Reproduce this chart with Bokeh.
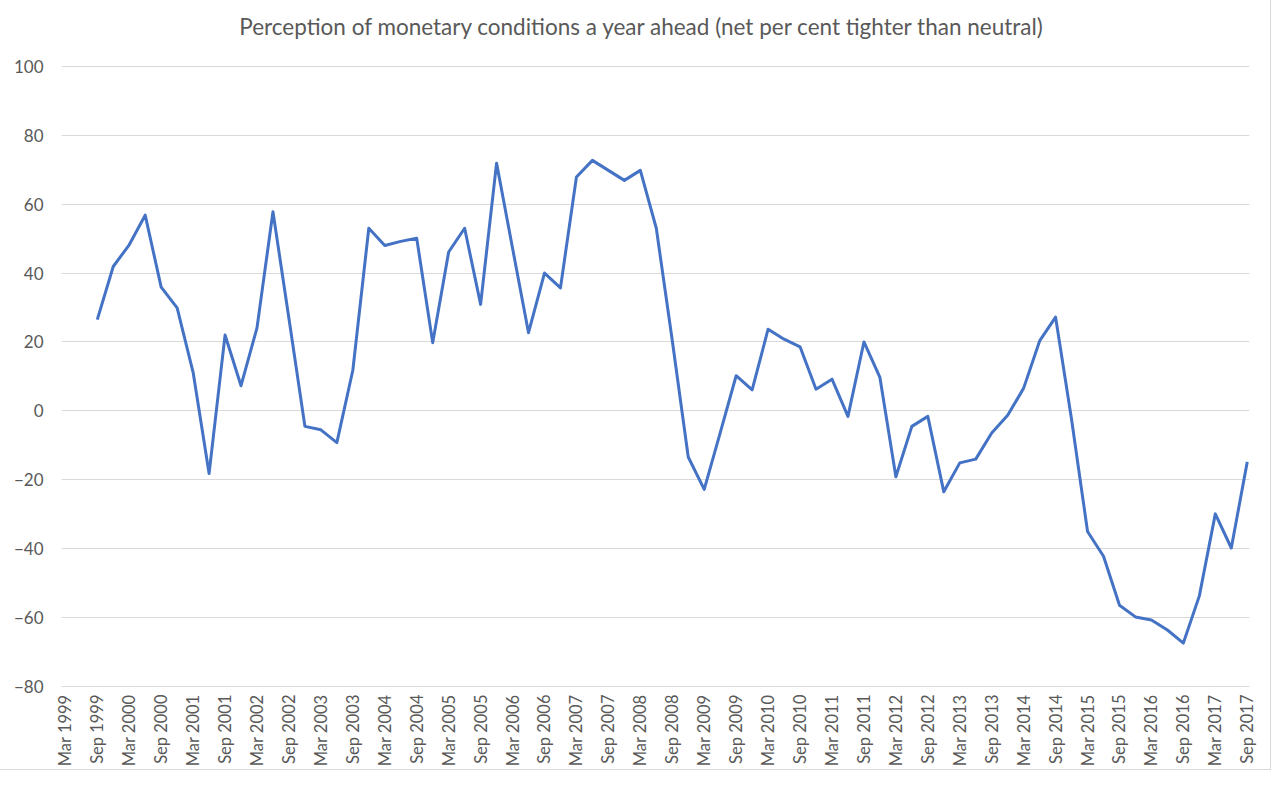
import math
from bokeh.plotting import figure
from bokeh.models import FixedTicker, Range1d, ColumnDataSource, Label
from bokeh.embed import file_html
from bokeh.resources import INLINE

quarters = []
for yr in range(1999, 2018):
    for m in ["Mar", "Jun", "Sep", "Dec"]:
        quarters.append(f"{m} {yr}")
quarters = quarters[:quarters.index("Sep 2017") + 1]

values = [
    None, None, 26.5, 41.9, 48.2, 56.8, 35.9, 29.9,          # 1999-2000
    11.2, -18.2, 22.0, 7.3, 24.1, 57.8, 26.8, -4.5,          # 2001-2002
    -5.5, -9.2, 11.8, 53.0, 48.0, 49.2, 50.1, 19.8,          # 2003-2004
    46.1, 53.0, 30.9, 71.9, 47.2, 22.7, 40.0, 35.7,          # 2005-2006
    67.9, 72.7, 69.8, 66.9, 69.8, 53.0, 20.4, -13.4,         # 2007-2008
    -22.8, -6.4, 10.2, 6.1, 23.7, 20.8, 18.6, 6.3,           # 2009-2010
    9.2, -1.6, 20.0, 9.7, -19.1, -4.5, -1.6, -23.5,          # 2011-2012
    -15.1, -14.0, -6.4, -1.3, 6.6, 20.3, 27.2, -2.5,         # 2013-2014
    -35.0, -42.2, -56.4, -59.8, -60.7, -63.6, -67.4, -53.7,  # 2015-2016
    -29.9, -39.8, -14.8,                                     # 2017
]

y_ticks = [-80, -60, -40, -20, 0, 20, 40, 60, 80, 100]
title_text = "Perception of monetary conditions a year ahead (net per cent tighter than neutral)"

idx = list(range(len(quarters)))
xs = [i for i, v in zip(idx, values) if v is not None]
ys = [v for v in values if v is not None]
src = ColumnDataSource(dict(x=xs, y=ys))

FONT = "Lato"
GREY = "#595959"

# layout (pixels)
W, H = 1270, 769
LEFT, RIGHT, TOP, BOTTOM = 61, 21, 5, 80
Y_TOP_GRID_PX = 66          # pixel row of the top gridline (100)
TITLE_CX, TITLE_CY = 642, 26

frame_top, frame_bottom = TOP, H - BOTTOM
ymin, ymax = y_ticks[0], y_ticks[-1]
px_per_unit = (frame_bottom - 1 - Y_TOP_GRID_PX) / (ymax - ymin)
y_hi = ymax + (Y_TOP_GRID_PX - frame_top) / px_per_unit
y_lo = ymin - 1 / px_per_unit
x_lo, x_hi = -0.24, len(quarters) - 1 + 0.14
x_scale = (W - LEFT - RIGHT) / (x_hi - x_lo)

p = figure(width=W, height=H, output_backend="svg", toolbar_location=None,
           x_range=Range1d(x_lo, x_hi), y_range=Range1d(y_lo, y_hi),
           min_border_left=LEFT, min_border_right=RIGHT,
           min_border_top=TOP, min_border_bottom=BOTTOM)
p.styles = {"outline": "1px solid #d9d9d9"}

title = Label(x=x_lo + (TITLE_CX - LEFT) / x_scale,
              y=ymax + (Y_TOP_GRID_PX - TITLE_CY) / px_per_unit,
              text=title_text, text_align="center", text_baseline="middle",
              text_font=FONT, text_font_size="22.5px", text_color=GREY)
p.add_layout(title)

p.line("x", "y", source=src, line_color="#4472C4", line_width=3, line_join="round")

p.outline_line_color = None
p.xgrid.grid_line_color = None
p.ygrid.grid_line_color = "#d9d9d9"
p.ygrid.grid_line_width = 1
p.ygrid.ticker = FixedTicker(ticks=y_ticks)

p.yaxis.ticker = FixedTicker(ticks=y_ticks)
p.yaxis.axis_line_color = None
p.yaxis.major_tick_line_color = None
p.yaxis.minor_tick_line_color = None
p.yaxis.major_tick_out = 0
p.yaxis.minor_tick_out = 0
p.yaxis.major_label_text_font = FONT
p.yaxis.major_label_text_font_size = "17px"
p.yaxis.major_label_text_color = GREY
p.yaxis.major_label_standoff = 18

x_tick_pos = idx[::2]
p.xaxis.ticker = FixedTicker(ticks=x_tick_pos)
p.xaxis.major_label_overrides = {i: quarters[i] for i in x_tick_pos}
p.xaxis.major_label_orientation = math.pi / 2
p.xaxis.axis_line_color = None
p.xaxis.major_tick_line_color = None
p.xaxis.minor_tick_line_color = None
p.xaxis.major_tick_out = 0
p.xaxis.minor_tick_out = 0
p.xaxis.major_label_text_font = FONT
p.xaxis.major_label_text_font_size = "16.5px"
p.xaxis.major_label_text_color = GREY
p.xaxis.major_label_standoff = 7

open("out.html", "w").write(file_html(p, INLINE))
